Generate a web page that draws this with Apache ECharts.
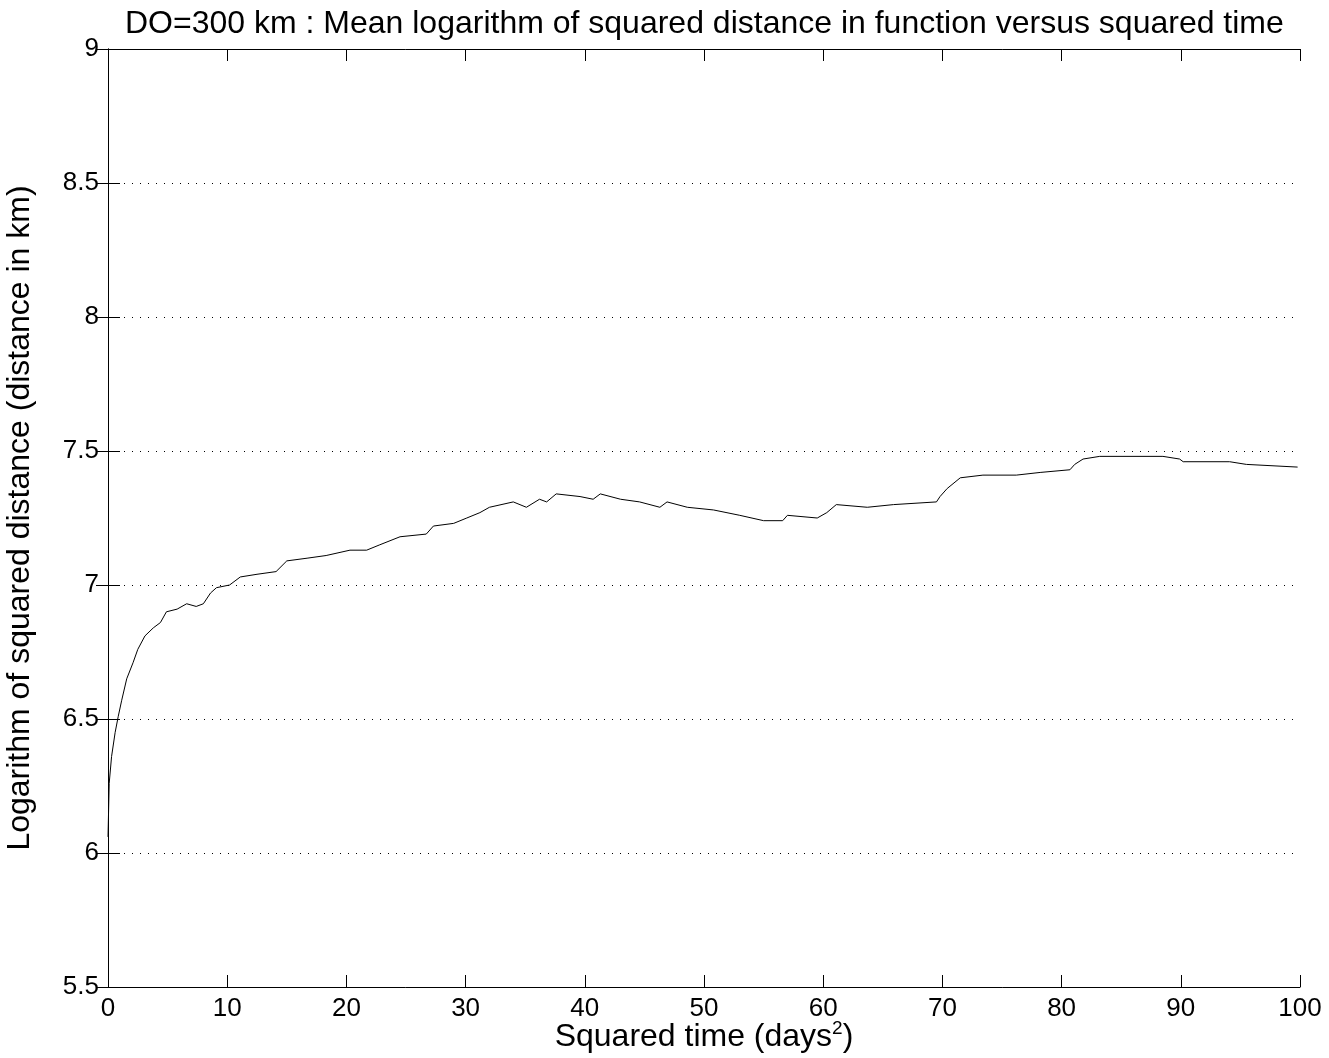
<!DOCTYPE html>
<html>
<head>
<meta charset="utf-8">
<script src="https://cdn.jsdelivr.net/npm/echarts@6/dist/echarts.min.js"></script>
<style>
html,body{margin:0;padding:0;background:#fff;}
#echarts{width:1329px;height:1058px;}
</style>
</head>
<body>
<div id="echarts"></div>
<script type="text/javascript">
// squared time (days^2) and mean log of squared distance
var sqTime = [0, 0.1, 0.3, 0.6, 0.86, 1.15, 1.57, 2.1, 2.5, 3.1, 3.8, 4.4, 4.9, 5.8, 6.6, 7.4, 8, 8.6, 9.1, 10.2,
	11.1, 12.5, 14.1, 15, 16.7, 18.3, 20.3, 21.7, 22.8, 24.5, 26.7, 27.3, 29, 30.1, 31.2, 32, 34, 35.1, 36.2, 36.8,
	37.6, 39.6, 40.7, 41.3, 43, 44.6, 46.3, 46.9, 48.6, 50.8, 53, 55, 56.6, 57, 59.5, 60.3, 61.1, 63.7, 65.9, 69.5,
	69.8, 70.4, 71.5, 73.4, 76.2, 78.2, 80.7, 81.1, 81.8, 83.2, 88.5, 89.9, 90.2, 94.1, 95.5, 99.8];
var logDist = [6.06, 6.26, 6.36, 6.45, 6.51, 6.57, 6.65, 6.71, 6.76, 6.81, 6.84, 6.86, 6.90, 6.91, 6.93, 6.92, 6.93, 6.97, 6.99, 7.00,
	7.03, 7.04, 7.05, 7.09, 7.10, 7.11, 7.13, 7.13, 7.15, 7.18, 7.19, 7.22, 7.23, 7.25, 7.27, 7.29, 7.31, 7.29, 7.32, 7.31,
	7.34, 7.33, 7.32, 7.34, 7.32, 7.31, 7.29, 7.31, 7.29, 7.28, 7.26, 7.24, 7.24, 7.26, 7.25, 7.27, 7.30, 7.29, 7.30, 7.31,
	7.33, 7.36, 7.40, 7.41, 7.41, 7.42, 7.43, 7.45, 7.47, 7.48, 7.48, 7.47, 7.46, 7.46, 7.45, 7.44];

var points = [];
for (var i = 0; i < sqTime.length; i++) {
	points.push([sqTime[i], logDist[i]]);
}

var thechart = echarts.init(document.getElementById('echarts'));
var font = 'Liberation Sans';
var theoption = {
	backgroundColor: '#fff',
	animation: false,
	title: {
		text: 'DO=300 km : Mean logarithm of squared distance in function versus squared time',
		left: 120,
		top: 3,
		textStyle: {fontFamily: font, fontSize: 32, fontWeight: 'normal', color: '#000'}
	},
	grid: {left: 108, right: 29, top: 49, bottom: 71, outerBoundsMode: 'none', containLabel: false},
	xAxis: [
		{
			type: 'value', min: 0, max: 100, interval: 10,
			name: '{a|Squared time (days}{s|2}{a|)}',
			nameLocation: 'middle', nameGap: 32, nameMoveOverlap: false,
			nameTextStyle: {
				rich: {
					a: {fontFamily: font, fontSize: 32, color: '#000', lineHeight: 34, verticalAlign: 'bottom'},
					s: {fontFamily: font, fontSize: 19, color: '#000', lineHeight: 18, verticalAlign: 'top'}
				}
			},
			axisLine: {lineStyle: {color: '#000', width: 1}},
			axisTick: {inside: true, length: 12, lineStyle: {color: '#000'}},
			axisLabel: {fontFamily: font, fontSize: 26, color: '#000', margin: 9},
			splitLine: {show: false}
		},
		{
			type: 'value', min: 0, max: 100, interval: 10, position: 'top',
			axisLine: {lineStyle: {color: '#000', width: 1}},
			axisTick: {inside: true, length: 12, lineStyle: {color: '#000'}},
			axisLabel: {show: false},
			splitLine: {show: false}
		}
	],
	yAxis: [
		{
			type: 'value', min: 5.5, max: 9, interval: 0.5,
			name: 'Logarithm of squared distance (distance in km)',
			nameLocation: 'middle', nameGap: 72,
			nameTextStyle: {fontFamily: font, fontSize: 32, color: '#000'},
			axisLine: {show: true, lineStyle: {color: '#000', width: 1}},
			axisTick: {show: true, inside: true, length: 12, lineStyle: {color: '#000'}},
			axisLabel: {fontFamily: font, fontSize: 26, color: '#000', margin: 9},
			splitLine: {show: true, lineStyle: {color: '#000', type: [1, 7], width: 1}}
		},
		{
			type: 'value', min: 5.5, max: 9, interval: 0.5, position: 'right',
			axisLine: {show: true, lineStyle: {color: '#000', width: 1}},
			axisTick: {show: true, inside: true, length: 12, lineStyle: {color: '#000'}},
			axisLabel: {show: false},
			splitLine: {show: false}
		}
	],
	series: [
		{
			name: 'mean log',
			type: 'line',
			data: points,
			symbol: 'none',
			smooth: false,
			lineStyle: {color: '#000', width: 1}
		}
	]
};
thechart.setOption(theoption, true);
</script>
</body>
</html>
